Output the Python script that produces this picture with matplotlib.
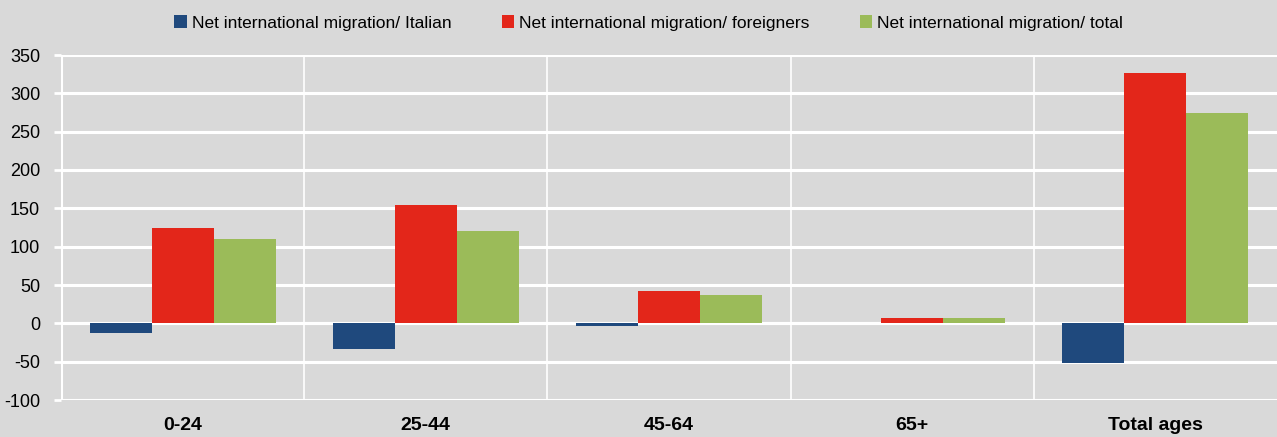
import numpy as np
import matplotlib.pyplot as plt
from matplotlib.ticker import MultipleLocator, FixedLocator

plt.rcParams['font.family'] = ['Liberation Sans', 'DejaVu Sans']
plt.rcParams['axes.unicode_minus'] = False

# ==================== 数据 ====================
categories = ['0-24', '25-44', '45-64', '65+', 'Total ages']
italian = [-13, -34, -4, 0, -52]
foreigners = [124, 154, 42, 7, 327]
total = [110, 121, 37, 7, 275]
series_names = ['Net international migration/ Italian',
                'Net international migration/ foreigners',
                'Net international migration/ total']
colors = ['#1F497D', '#E3261A', '#9BBB59']

BG = '#D9D9D9'

fig = plt.figure(figsize=(12.77, 4.37), dpi=100, facecolor=BG)
ax = fig.add_axes([61 / 1277, 1 - 400 / 437, 1 - 61 / 1277, (400 - 55) / 437])
ax.set_facecolor(BG)

x = np.arange(len(categories))
w = 0.255
for i, (vals, name, c) in enumerate(zip([italian, foreigners, total], series_names, colors)):
    ax.bar(x + (i - 1) * w, vals, width=w, color=c, label=name, zorder=3)

ax.set_xlim(-0.5, len(categories) - 0.5)
ax.set_ylim(-100, 350)
ax.yaxis.set_major_locator(MultipleLocator(50))
ax.xaxis.set_minor_locator(FixedLocator(np.arange(0.5, len(categories) - 0.5, 1)))

# 网格
ax.grid(axis='y', which='major', color='white', linewidth=2.2, zorder=1)
ax.grid(axis='x', which='minor', color='white', linewidth=1.2, zorder=1)
ax.axhline(0, color='white', linewidth=2.2, zorder=2)

for s in ax.spines.values():
    s.set_visible(False)
ax.axvline(-0.5, color='white', linewidth=2.2, zorder=2)

ax.set_xticks(x)
ax.set_xticklabels(categories, fontsize=14, fontweight='bold')
ax.tick_params(axis='x', which='both', length=0, pad=12)
ax.tick_params(axis='y', length=5, width=2, color='white', labelsize=13, pad=10)
for lbl in ax.get_yticklabels():
    lbl.set_color('black')

fig.legend(loc='center', bbox_to_anchor=(0.508, 1 - 23 / 437), ncol=3, frameon=False,
           fontsize=12.5, handlelength=0.7, handleheight=0.7, handletextpad=0.3,
           columnspacing=2.9)

plt.savefig('out.png', dpi=100, facecolor=BG)
